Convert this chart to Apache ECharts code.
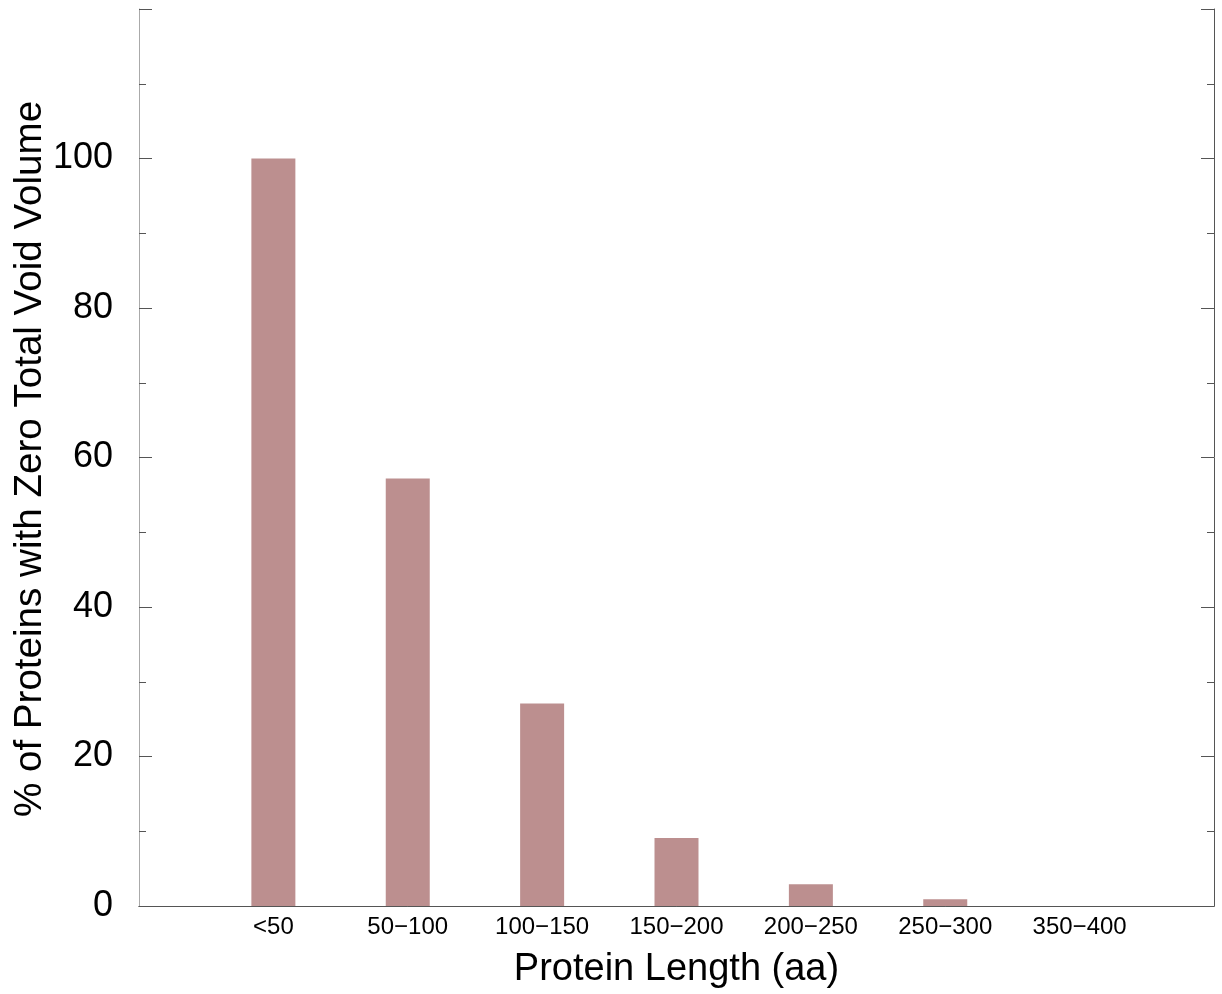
<!DOCTYPE html>
<html>
<head>
<meta charset="utf-8">
<script src="https://cdn.jsdelivr.net/npm/echarts@6/dist/echarts.min.js"></script>
<style>
html, body { margin: 0; padding: 0; background: #fff; }
#chart { width: 1222px; height: 994px; }
</style>
</head>
<body>
<div id="chart"></div>
<script>
// empty slots at both ends keep the bars off the frame
var lengthBins = ['', '<50', '50\u2212100', '100\u2212150', '150\u2212200', '200\u2212250', '250\u2212300', '350\u2212400', ''];
var zeroVoidPct = [null, 100, 57.2, 27.1, 9.1, 2.9, 0.9, 0, null];
var yTitle = '% of Proteins with Zero Total Void Volume';

var myChart = echarts.init(document.getElementById('chart'));
var font = 'Liberation Sans, Arial, sans-serif';

var yTicks = {
    type: 'value',
    min: 0,
    max: 120,
    interval: 20,
    splitLine: { show: false },
    axisTick: { show: true, inside: true, length: 13, lineStyle: { color: '#555' } },
    minorTick: { show: true, splitNumber: 2, length: 7, lineStyle: { color: '#555' } }
};

myChart.setOption({
    animation: false,
    grid: { left: 139, right: 8, top: 9, bottom: 88, outerBoundsMode: 'none', containLabel: false },
    // y title drawn by hand, the axis name would not move
    graphic: [
        {
            type: 'text',
            x: 30,
            y: 459,
            rotation: Math.PI / 2,
            style: {
                text: yTitle,
                font: '38.6px Liberation Sans, Arial, sans-serif',
                fill: '#000',
                textAlign: 'center',
                textVerticalAlign: 'middle'
            }
        }
    ],
    xAxis: [
        {
            type: 'category',
            data: lengthBins,
            boundaryGap: false,
            name: 'Protein Length (aa)',
            nameLocation: 'middle',
            nameGap: 45,
            nameTextStyle: { fontSize: 38, color: '#000', fontFamily: font },
            axisLine: { lineStyle: { color: '#555' } },
            axisTick: { show: false },
            axisLabel: { fontSize: 24, color: '#000', fontFamily: font, margin: 9, interval: 0 }
        },
        {
            type: 'category',
            position: 'top',
            data: lengthBins,
            boundaryGap: false,
            axisLine: { lineStyle: { color: '#555' } },
            axisTick: { show: false },
            axisLabel: { show: false }
        }
    ],
    yAxis: [
        Object.assign({}, yTicks, {
            axisLine: { show: true, lineStyle: { color: '#aaa' } },
            axisLabel: {
                fontSize: 36, color: '#000', fontFamily: font, margin: 26,
                formatter: function (v) { return v > 100 ? '' : v; }
            }
        }),
        Object.assign({}, yTicks, {
            position: 'right',
            axisLine: { show: true, lineStyle: { color: '#555' } },
            axisLabel: { show: false }
        })
    ],
    series: [
        {
            type: 'bar',
            data: zeroVoidPct,
            barWidth: 44,
            itemStyle: { color: '#bc8f8f' }
        }
    ]
});
</script>
</body>
</html>
